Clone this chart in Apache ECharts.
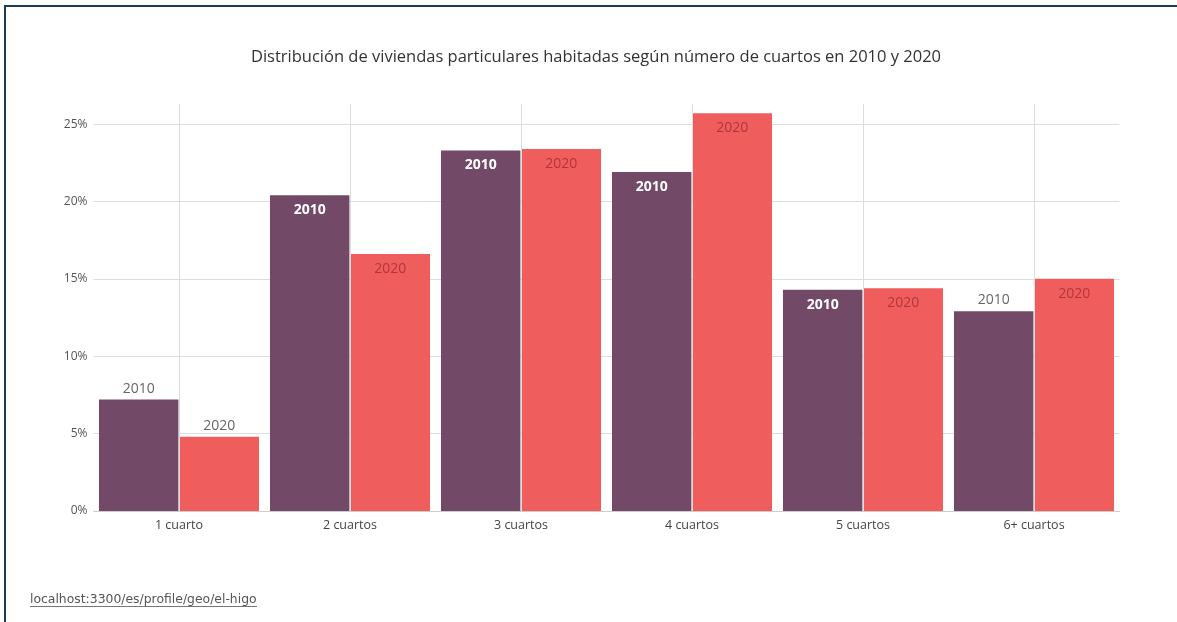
<!DOCTYPE html>
<html>
<head>
<meta charset="utf-8">
<script src="https://cdn.jsdelivr.net/npm/echarts@6/dist/echarts.min.js"></script>
<style>
html,body{margin:0;padding:0;background:#fff;}
#frame{position:absolute;left:0;top:0;width:1177px;height:622px;overflow:hidden;background:#fff;}
#topb{position:absolute;left:4px;top:5px;width:1173px;height:2px;background:#1e3a56;}
#leftb{position:absolute;left:4px;top:5px;width:2px;height:617px;background:#1e3a56;}
#chart{position:absolute;left:0;top:0;width:1177px;height:622px;}
</style>
</head>
<body>
<div id="frame">
<div id="chart"></div>
<div id="topb"></div>
<div id="leftb"></div>
</div>
<script>
const titleText = 'Distribución de viviendas particulares habitadas según número de cuartos en 2010 y 2020';
const categories = ['1 cuarto', '2 cuartos', '3 cuartos', '4 cuartos', '5 cuartos', '6+ cuartos'];
const seriesNames = ['2010', '2020'];
const values2010 = [7.2, 20.4, 23.3, 21.9, 14.3, 12.9];
const values2020 = [4.8, 16.6, 23.4, 25.7, 14.4, 15.0];
const yTicks = [0, 5, 10, 15, 20, 25];
const linkText = 'localhost:3300/es/profile/geo/el-higo';

const FONT = '"Open Sans", "Noto Sans", sans-serif';
const C2010 = '#724a68';
const C2020 = '#ef5d5d';
// bars whose label sits outside (on top)
const outside2010 = [true, false, false, false, false, true];
const outside2020 = [true, false, false, false, false, false];

function makeData(vals, outside, insideStyle) {
  return vals.map((v, i) => {
    if (outside[i]) {
      return { value: v, label: { position: 'top', distance: 4, color: '#666', fontWeight: 'normal' } };
    }
    return { value: v, label: Object.assign({ position: 'insideTop', distance: 8 }, insideStyle) };
  });
}

const chart = echarts.init(document.getElementById('chart'), null, { renderer: 'canvas' });
chart.setOption({
  animation: false,
  backgroundColor: 'transparent',
  textStyle: { fontFamily: FONT },
  title: {
    text: titleText,
    left: 591,
    textAlign: 'center',
    top: 44,
    textStyle: { fontFamily: FONT, fontSize: 16.5, fontWeight: 'normal', color: '#333' }
  },
  grid: { left: 93.5, right: 57.5, top: 104, bottom: 111, containLabel: false },
  xAxis: {
    type: 'category',
    data: categories,
    axisLine: { show: true, lineStyle: { color: '#ccc' } },
    axisTick: { show: false },
    axisLabel: { color: '#444', fontSize: 12.5, fontFamily: FONT, margin: 8 },
    splitLine: { show: false }
  },
  yAxis: {
    type: 'value',
    min: 0,
    max: 26.3,
    interval: 5,
    axisLine: { show: false },
    axisTick: { show: false },
    axisLabel: {
      color: '#555', fontSize: 12, fontFamily: FONT, margin: 6,
      showMaxLabel: false,
      formatter: v => (yTicks.indexOf(v) >= 0 ? v + '%' : '')
    },
    splitLine: { show: true, showMaxLine: false, lineStyle: { color: '#ddd', width: 1 } }
  },
  series: [
    {
      name: 'grid-v',
      type: 'line',
      data: [],
      silent: true,
      z: 0,
      markLine: {
        silent: true,
        symbol: 'none',
        label: { show: false },
        lineStyle: { color: '#ddd', type: 'solid', width: 1 },
        data: categories.map(c => ({ xAxis: c }))
      }
    },
    {
      name: seriesNames[0],
      type: 'bar',
      barGap: '1.5%',
      barCategoryGap: '6.4%',
      itemStyle: { color: C2010 },
      label: {
        show: true,
        formatter: '{a}',
        fontSize: 14,
        fontFamily: FONT
      },
      data: makeData(values2010, outside2010, { color: '#fff', fontWeight: 'bold' }),
      z: 2
    },
    {
      name: seriesNames[1],
      type: 'bar',
      itemStyle: { color: C2020 },
      label: {
        show: true,
        formatter: '{a}',
        fontSize: 14,
        fontFamily: FONT
      },
      data: makeData(values2020, outside2020, { color: 'rgba(140,30,40,0.62)', fontWeight: 'normal' }),
      z: 2
    }
  ],
  graphic: [
    {
      type: 'group',
      left: 30,
      top: 594,
      children: [
        { type: 'text', style: { text: linkText, font: '12.4px "DejaVu Sans", sans-serif', fill: '#555' } },
        { type: 'rect', shape: { x: 0, y: 12, width: 227, height: 1 }, style: { fill: '#777' } }
      ]
    }
  ]
});
</script>
</body>
</html>
